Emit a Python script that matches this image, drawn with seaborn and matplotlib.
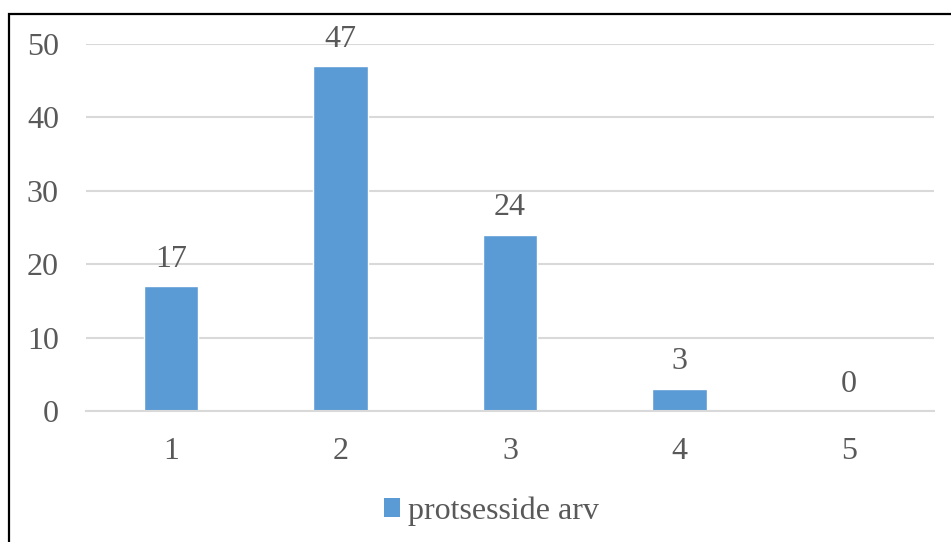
import matplotlib
matplotlib.use("Agg")
import matplotlib.pyplot as plt
from matplotlib.patches import Rectangle
import seaborn as sns
import pandas as pd

categories = ["1", "2", "3", "4", "5"]
values = [17, 47, 24, 3, 0]
series_name = "protsesside arv"
y_ticks = [0, 10, 20, 30, 40, 50]

bar_color = "#5B9BD5"
text_color = "#595959"
grid_color = "#D9D9D9"
font_size = 23

sns.set_theme(style="white")
plt.rcParams["font.family"] = ["Liberation Serif", "DejaVu Serif"]

df = pd.DataFrame({"kategooria": categories, "arv": values, "seeria": series_name})

fig = plt.figure(figsize=(9.51, 5.42), dpi=100)
ax = fig.add_axes([86 / 951, (542 - 411) / 542, (934 - 86) / 951, (411 - 44) / 542])

sns.barplot(data=df, x="kategooria", y="arv", hue="seeria", palette=[bar_color],
            width=0.32, dodge=False, ax=ax, legend=False, saturation=1)

ax.set_ylim(0, 50)
ax.set_xlim(-0.5, 4.5)
ax.set_yticks(y_ticks)
ax.set_yticklabels([str(t) for t in y_ticks])
ax.set_xlabel("")
ax.set_ylabel("")
ax.yaxis.grid(True, color=grid_color, linewidth=1.5)
ax.set_axisbelow(True)
for side in ["top", "right", "left"]:
    ax.spines[side].set_visible(False)
ax.spines["bottom"].set_color(grid_color)
ax.spines["bottom"].set_linewidth(1.5)
ax.tick_params(axis="y", length=0, pad=19.5, labelsize=font_size, labelcolor=text_color)
ax.tick_params(axis="x", length=0, pad=19, labelsize=font_size, labelcolor=text_color)

for container in ax.containers:
    ax.bar_label(container, labels=[str(v) for v in values], padding=9,
                 fontsize=font_size, color=text_color)

handle = Rectangle((0, 0), 1, 1, facecolor=bar_color, edgecolor="none")
fig.legend([handle], [series_name], loc="center",
           bbox_to_anchor=(0.5 + 16 / 951, (542 - 511) / 542),
           frameon=False, handlelength=0.5, handleheight=0.5, handletextpad=0.25,
           prop={"size": font_size}, labelcolor=text_color)

# outer frame (open on the right and bottom)
fig.add_artist(Rectangle((8.5 / 951, -0.05), 1.1, (542 - 13.5) / 542 + 0.05,
                         transform=fig.transFigure, fill=False, edgecolor="black",
                         linewidth=1.6, clip_on=False))

fig.savefig("out.png", dpi=100, facecolor="white")
